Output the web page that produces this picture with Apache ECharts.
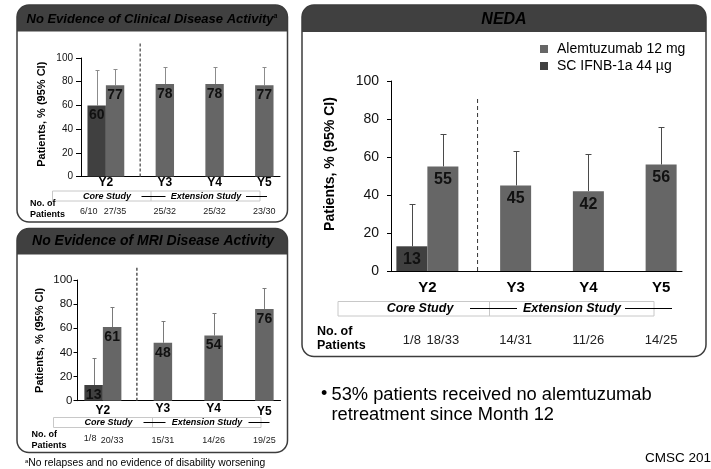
<!DOCTYPE html>
<html>
<head>
<meta charset="utf-8">
<script src="https://cdn.jsdelivr.net/npm/echarts@6/dist/echarts.min.js"></script>
<style>
  html, body { margin: 0; padding: 0; background: #fff; }
  #chart { width: 711px; height: 469px; }
</style>
</head>
<body>
<div id="chart"></div>
<script>
// ---- data ----------------------------------------------------------------
const years = ['Y2', 'Y3', 'Y4', 'Y5'];
const seriesNames = ['SC IFNB-1a 44 µg', 'Alemtuzumab 12 mg'];

// No Evidence of Clinical Disease Activity
const ncdaIfnb = [60, null, null, null];
const ncdaIfnbUpper = [90, null, null, null];
const ncdaAlem = [77, 78, 78, 77];
const ncdaAlemUpper = [91, 92.5, 92.5, 92];
const ncdaIfnbN = ['6/10', '', '', ''];
const ncdaAlemN = ['27/35', '25/32', '25/32', '23/30'];

// No Evidence of MRI Disease Activity
const nmriIfnb = [13, null, null, null];
const nmriIfnbUpper = [35.5, null, null, null];
const nmriAlem = [61, 48, 54, 76];
const nmriAlemUpper = [77.5, 66, 73, 93];
const nmriIfnbN = ['1/8', '', '', ''];
const nmriAlemN = ['20/33', '15/31', '14/26', '19/25'];

// NEDA
const nedaIfnb = [13, null, null, null];
const nedaIfnbUpper = [35.5, null, null, null];
const nedaAlem = [55, 45, 42, 56];
const nedaAlemUpper = [72, 63, 61.5, 76];
const nedaIfnbN = ['1/8', '', '', ''];
const nedaAlemN = ['18/33', '14/31', '11/26', '14/25'];

// ---- styling ---------------------------------------------------------------
const FONT = '"Liberation Sans", Arial, Helvetica, sans-serif';
const ALEM_COLOR = '#666666';
const IFNB_COLOR = '#404040';
const FRAME_COLOR = '#3c3c3c';

const panels = [
  { // clinical disease activity
    ifnb: ncdaIfnb, ifnbUp: ncdaIfnbUpper, alem: ncdaAlem, alemUp: ncdaAlemUpper,
    ifnbN: ncdaIfnbN, alemN: ncdaAlemN,
    grid: { left: 81, top: 58, width: 199, height: 118.5 },
    barW: 18.4, xFont: 12, xMargin: 0.5, xPadTop: [0, 0, 0, 0],
    yFont: 10, yMargin: 8, tickLen: 5,
    nameFont: 11, nameGap: 34, nameUp: 3,
    valFont: 14, valDist: 3,
    nFont: 9, nDy: 35.2, ifnbShift: -8, ifnbDy: 0,
    errColor: '#8c8c8c', cap: 4,
    divider: 1.19, dividerTop: 113, dividerColor: '#666', dividerWidth: 1.5, dash: [3, 2]
  },
  { // MRI disease activity
    ifnb: nmriIfnb, ifnbUp: nmriIfnbUpper, alem: nmriAlem, alemUp: nmriAlemUpper,
    ifnbN: nmriIfnbN, alemN: nmriAlemN,
    grid: { left: 77.5, top: 280, width: 203, height: 120.7 },
    barW: 18.5, xFont: 12, xMargin: 1.6, xPadTop: [2.4, 0.7, 0, 3.4],
    yFont: 11.5, yMargin: 5, tickLen: 4,
    nameFont: 11, nameGap: 32.5, nameUp: 0,
    valFont: 14, valDist: 3,
    nFont: 9, nDy: 40, ifnbShift: -3.5, ifnbDy: -2.4,
    errColor: '#7a7a7a', cap: 4,
    divider: 1.17, dividerTop: 111, dividerColor: '#555', dividerWidth: 1.5, dash: [3, 2]
  },
  { // NEDA
    ifnb: nedaIfnb, ifnbUp: nedaIfnbUpper, alem: nedaAlem, alemUp: nedaAlemUpper,
    ifnbN: nedaIfnbN, alemN: nedaAlemN,
    grid: { left: 391, top: 81, width: 291, height: 190 },
    barW: 31, xFont: 15, xMargin: 9, xPadTop: [0, 0, 0, 0],
    yFont: 14, yMargin: 12, tickLen: 4,
    nameFont: 14, nameGap: 54, nameUp: 12,
    valFont: 16, valDist: 5,
    nFont: 13, nDy: 69, ifnbShift: 0, ifnbDy: 0,
    errColor: '#4a4a4a', cap: 6,
    divider: 1.19, dividerTop: 91, dividerColor: '#333', dividerWidth: 1, dash: [4, 3]
  }
];

const grids = [], xAxes = [], yAxes = [], series = [];

panels.forEach((p, k) => {
  grids.push(Object.assign({ containLabel: false }, p.grid));

  // category axis for bars
  xAxes.push({
    type: 'category', gridIndex: k, data: years,
    axisLine: { lineStyle: { color: '#000', width: 1 } },
    axisTick: { show: false },
    axisLabel: {
      margin: p.xMargin, interval: 0,
      formatter: (v, i) => '{c' + i + '|' + v + '}',
      rich: years.reduce((acc, y, i) => {
        acc['c' + i] = {
          fontFamily: FONT, fontSize: p.xFont, fontWeight: 'bold', color: '#000',
          padding: [p.xPadTop[i], 0, 0, i === 0 ? 0 : p.barW]
        };
        return acc;
      }, {})
    }
  });
  // hidden continuous axis spanning the same categories (for the divider)
  xAxes.push({
    type: 'value', gridIndex: k, min: 0, max: years.length, show: false
  });

  yAxes.push({
    type: 'value', gridIndex: k, min: 0, max: 100, interval: 20,
    name: 'Patients, % (95% CI)', nameLocation: 'middle', nameGap: p.nameGap,
    nameTextStyle: {
      fontFamily: FONT, fontSize: p.nameFont, fontWeight: 'bold', color: '#000',
      padding: [0, 0, 0, p.nameUp * 2]
    },
    axisLine: { show: true, lineStyle: { color: '#000', width: 1 } },
    axisTick: { show: true, length: p.tickLen, lineStyle: { color: '#000' } },
    axisLabel: { fontFamily: FONT, fontSize: p.yFont, color: '#111', margin: p.yMargin },
    splitLine: { show: false }
  });

  const xi = 2 * k, vxi = 2 * k + 1;
  const valueLabel = {
    show: true, position: 'insideTop', distance: p.valDist,
    fontFamily: FONT, fontSize: p.valFont, fontWeight: 'bold', color: '#111'
  };

  series.push({
    name: seriesNames[0], type: 'bar', xAxisIndex: xi, yAxisIndex: k,
    data: p.ifnb, barWidth: p.barW, barGap: '0%',
    itemStyle: { color: IFNB_COLOR }, label: valueLabel, z: 3
  });
  series.push({
    name: seriesNames[1], type: 'bar', xAxisIndex: xi, yAxisIndex: k,
    data: p.alem, barWidth: p.barW, barGap: '0%',
    itemStyle: { color: ALEM_COLOR }, label: valueLabel, z: 3
  });

  // upper 95% CI whiskers
  const whiskers = (vals, ups, side) => ({
    type: 'custom', xAxisIndex: xi, yAxisIndex: k, z: 2, silent: true, clip: false,
    encode: { x: 0, y: [1, 2] },
    data: vals.map((v, i) => (v == null ? null : [i, v, ups[i]])).filter(Boolean),
    renderItem: (params, api) => {
      const lo = api.coord([api.value(0), api.value(1)]);
      const hi = api.coord([api.value(0), api.value(2)]);
      const x = Math.round(lo[0] + side * p.barW / 2) + 0.5;
      const y = Math.round(hi[1]) + 0.5;
      const st = { stroke: p.errColor, lineWidth: 1 };
      return {
        type: 'group', children: [
          { type: 'line', shape: { x1: x, y1: lo[1], x2: x, y2: y }, style: st },
          { type: 'line', shape: { x1: x - p.cap / 2, y1: y, x2: x + p.cap / 2, y2: y }, style: st }
        ]
      };
    }
  });
  series.push(whiskers(p.ifnb, p.ifnbUp, -1));
  series.push(whiskers(p.alem, p.alemUp, 1));

  // patient counts under each bar
  const counts = (labels, side, shift, dy) => ({
    type: 'custom', xAxisIndex: xi, yAxisIndex: k, silent: true, clip: false,
    data: labels.map((t, i) => [i, 0]),
    renderItem: (params, api) => {
      const c = api.coord([api.value(0), 0]);
      return {
        type: 'text', x: c[0] + side * p.barW / 2 + shift, y: c[1] + p.nDy + dy,
        style: {
          text: labels[params.dataIndex], align: 'center', verticalAlign: 'middle',
          font: p.nFont + 'px ' + FONT, fill: '#222'
        }
      };
    }
  });
  series.push(counts(p.ifnbN, -1, p.ifnbShift, p.ifnbDy));
  series.push(counts(p.alemN, 1, 0, 0));

  // core / extension study divider
  series.push({
    type: 'line', xAxisIndex: vxi, yAxisIndex: k, silent: true, clip: false,
    symbol: 'none', z: 1,
    data: [[p.divider, 0], [p.divider, p.dividerTop]],
    lineStyle: { color: p.dividerColor, width: p.dividerWidth, type: p.dash }
  });
});

// ---- frames, headers and annotations -------------------------------------
function frame(x0, y0, x1, y1, hy) {
  return [
    { type: 'rect', shape: { x: x0, y: y0, width: x1 - x0, height: hy - y0, r: [12, 12, 0, 0] },
      style: { fill: '#404040' }, z: 0 },
    { type: 'rect', shape: { x: x0, y: y0, width: x1 - x0, height: y1 - y0, r: 12 },
      style: { fill: 'none', stroke: FRAME_COLOR, lineWidth: 1.5 }, z: 0 }
  ];
}

function headerTitle(text, cx, cy, size) {
  return {
    type: 'text', x: cx, y: cy, z: 1,
    style: {
      text: text, align: 'center', verticalAlign: 'middle',
      font: 'italic bold ' + size + 'px ' + FONT, fill: '#000',
      rich: {
        t: { font: 'italic bold ' + size + 'px ' + FONT, fill: '#000' },
        s: { font: 'italic bold ' + Math.round(size * 0.55) + 'px ' + FONT, fill: '#000', verticalAlign: 'top', padding: [0, 0, 6, 0] }
      }
    }
  };
}

function studyBox(b) {
  return [
    { type: 'rect', shape: { x: b.x0, y: b.y0, width: b.x1 - b.x0, height: b.y1 - b.y0 },
      style: { fill: 'none', stroke: '#c8c8c8', lineWidth: 1 } },
    { type: 'line', shape: { x1: b.div, y1: b.y0, x2: b.div, y2: b.y1 },
      style: { stroke: '#c8c8c8', lineWidth: 1 } },
    { type: 'line', shape: { x1: b.l1[0], y1: b.ly, x2: b.l1[1], y2: b.ly },
      style: { stroke: '#000', lineWidth: 1 } },
    { type: 'line', shape: { x1: b.l2[0], y1: b.ly, x2: b.l2[1], y2: b.ly },
      style: { stroke: '#000', lineWidth: 1 } },
    { type: 'text', x: b.coreX, y: b.ty,
      style: { text: 'Core Study', align: 'center', verticalAlign: 'middle',
        font: 'italic bold ' + b.font + 'px ' + FONT, fill: '#000' } },
    { type: 'text', x: b.extX, y: b.ty,
      style: { text: 'Extension Study', align: 'center', verticalAlign: 'middle',
        font: 'italic bold ' + b.font + 'px ' + FONT, fill: '#000' } }
  ];
}

function patientsLabel(x, y1, y2, size) {
  return [
    { type: 'text', x: x, y: y1, style: { text: 'No. of', align: 'left', verticalAlign: 'middle',
      font: 'bold ' + size + 'px ' + FONT, fill: '#000' } },
    { type: 'text', x: x, y: y2, style: { text: 'Patients', align: 'left', verticalAlign: 'middle',
      font: 'bold ' + size + 'px ' + FONT, fill: '#000' } }
  ];
}

const graphics = [].concat(
  frame(17, 5, 287.5, 222, 31.5),
  frame(17, 228.5, 287.5, 452.5, 254.5),
  frame(302, 5, 706, 356.5, 32),
  [
    headerTitle('{t|No Evidence of Clinical Disease Activity}{s|a}', 152, 19.5, 13),
    headerTitle('{t|No Evidence of MRI Disease Activity}', 153, 241.5, 14),
    headerTitle('{t|NEDA}', 504, 20, 16)
  ],
  studyBox({ x0: 52.5, x1: 260, y0: 191, y1: 201, div: 151, ly: 196.5,
    l1: [141.5, 165.5], l2: [246, 267], coreX: 107, extX: 206, ty: 196.5, font: 9 }),
  studyBox({ x0: 53.5, x1: 261, y0: 417.5, y1: 427.5, div: 152.5, ly: 422.5,
    l1: [143.5, 165.5], l2: [248.5, 269.5], coreX: 108.5, extX: 207, ty: 422.5, font: 9 }),
  studyBox({ x0: 338, x1: 654, y0: 301.5, y1: 316, div: 489.5, ly: 308.5,
    l1: [470, 517], l2: [625, 672], coreX: 420, extX: 572, ty: 308.5, font: 12.5 }),
  patientsLabel(30, 204, 214.5, 9),
  patientsLabel(31.5, 435, 446, 9),
  patientsLabel(317, 331.5, 345.5, 12.5),
  [
    { type: 'text', x: 321, y: 394.5, style: { text: '•', align: 'left', verticalAlign: 'middle',
      font: '18px ' + FONT, fill: '#000' } },
    { type: 'text', x: 331.5, y: 394.5, style: { text: '53% patients received no alemtuzumab', align: 'left',
      verticalAlign: 'middle', font: '18.3px ' + FONT, fill: '#000' } },
    { type: 'text', x: 331.5, y: 415, style: { text: 'retreatment since Month 12', align: 'left',
      verticalAlign: 'middle', font: '18.3px ' + FONT, fill: '#000' } },
    { type: 'text', x: 25, y: 463, style: {
      text: '{s|a}{t|No relapses and no evidence of disability worsening}', align: 'left', verticalAlign: 'middle',
      rich: {
        t: { font: '10.3px ' + FONT, fill: '#000' },
        s: { font: '6px ' + FONT, fill: '#000', verticalAlign: 'top', padding: [0, 0, 4, 0] }
      } } },
    { type: 'text', x: 645, y: 458, style: { text: 'CMSC 201', align: 'left', verticalAlign: 'middle',
      font: '13.5px ' + FONT, fill: '#000' } }
  ]
);

const chart = echarts.init(document.getElementById('chart'), null, { renderer: 'canvas' });
chart.setOption({
  animation: false,
  backgroundColor: '#fff',
  textStyle: { fontFamily: FONT },
  legend: {
    data: [seriesNames[1], seriesNames[0]],
    orient: 'vertical', left: 540, top: 42, padding: 0,
    icon: 'rect', itemWidth: 8, itemHeight: 8, itemGap: 3,
    textStyle: { fontFamily: FONT, fontSize: 14, color: '#000', padding: [0, 0, 0, 4] },
    selectedMode: false
  },
  grid: grids,
  xAxis: xAxes,
  yAxis: yAxes,
  series: series,
  graphic: graphics
});
</script>
</body>
</html>
